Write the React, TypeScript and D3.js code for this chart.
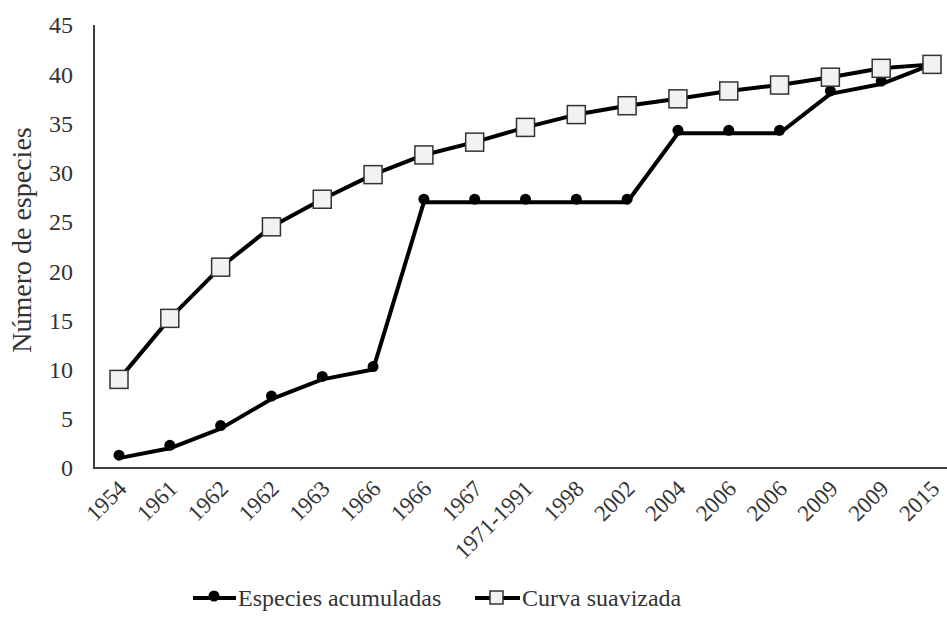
import React, { useRef, useEffect } from "react";
import * as d3 from "d3";

const years = [
  "1954", "1961", "1962", "1962", "1963", "1966", "1966", "1967", "1971-1991",
  "1998", "2002", "2004", "2006", "2006", "2009", "2009", "2015",
];
const acumuladas = [1, 2, 4, 7, 9, 10, 27, 27, 27, 27, 27, 34, 34, 34, 38, 39, 41];
const suavizada = [
  9, 15.2, 20.4, 24.5, 27.3, 29.8, 31.8, 33.1, 34.6, 35.9, 36.8, 37.5, 38.3, 38.9, 39.7, 40.6, 41,
];
const yTicks = [0, 5, 10, 15, 20, 25, 30, 35, 40, 45];

const W = 947;
const H = 624;

const App = () => {
  const ref = useRef<SVGSVGElement>(null);

  useEffect(() => {
    const svg = d3.select(ref.current);
    svg.selectAll("*").remove();

    const idx = years.map((_, i) => i);
    const x = d3.scalePoint<number>().domain(idx).range([119, 932]);
    const y = d3.scaleLinear().domain([0, 45]).range([468, 25]);

    // axes
    svg.append("line")
      .attr("x1", 94).attr("x2", 94).attr("y1", y(45)).attr("y2", y(0))
      .attr("stroke", "#404040").attr("stroke-width", 2);
    svg.append("line")
      .attr("x1", 93).attr("x2", W).attr("y1", y(0)).attr("y2", y(0))
      .attr("stroke", "#404040").attr("stroke-width", 2);

    svg.append("g").selectAll("text").data(yTicks).join("text")
      .attr("x", 73).attr("y", (d) => y(d))
      .attr("dy", "0.35em")
      .attr("text-anchor", "end")
      .attr("font-size", 24).attr("fill", "#333")
      .text((d) => d);

    svg.append("g").selectAll("text").data(idx).join("text")
      .attr("transform", (i) => `translate(${x(i)! + 9},${490}) rotate(-45)`)
      .attr("text-anchor", "end")
      .attr("font-size", 23).attr("fill", "#333")
      .text((i) => years[i]);

    svg.append("text")
      .attr("transform", `translate(31,240) rotate(-90)`)
      .attr("text-anchor", "middle")
      .attr("font-size", 28).attr("fill", "#333")
      .text("Número de especies");

    const line = d3.line<number>().x((_, i) => x(i)!).y((d) => y(d));

    // Especies acumuladas
    svg.append("path").datum(acumuladas)
      .attr("d", line).attr("fill", "none")
      .attr("stroke", "#000").attr("stroke-width", 4).attr("stroke-linejoin", "round");
    svg.append("g").selectAll("circle").data(acumuladas).join("circle")
      .attr("cx", (_, i) => x(i)!).attr("cy", (d) => y(d) - 3)
      .attr("r", 5.5).attr("fill", "#000");

    // Curva suavizada
    svg.append("path").datum(suavizada)
      .attr("d", line).attr("fill", "none")
      .attr("stroke", "#000").attr("stroke-width", 4).attr("stroke-linejoin", "round");
    svg.append("g").selectAll("rect").data(suavizada).join("rect")
      .attr("x", (_, i) => x(i)! - 9).attr("y", (d) => y(d) - 9)
      .attr("width", 18).attr("height", 18)
      .attr("fill", "#f2f2f2").attr("stroke", "#333").attr("stroke-width", 1.5);

    // legend
    const lg = svg.append("g");
    lg.append("line").attr("x1", 193).attr("x2", 236).attr("y1", 598).attr("y2", 598)
      .attr("stroke", "#000").attr("stroke-width", 4);
    lg.append("circle").attr("cx", 214).attr("cy", 596).attr("r", 5.5).attr("fill", "#000");
    lg.append("text").attr("x", 238).attr("y", 598).attr("dy", "0.35em")
      .attr("font-size", 24).attr("fill", "#333")
      .text("Especies acumuladas");
    lg.append("line").attr("x1", 475).attr("x2", 520).attr("y1", 598).attr("y2", 598)
      .attr("stroke", "#000").attr("stroke-width", 4);
    lg.append("rect").attr("x", 490).attr("y", 591).attr("width", 13).attr("height", 13)
      .attr("fill", "#f2f2f2").attr("stroke", "#333").attr("stroke-width", 1.5);
    lg.append("text").attr("x", 522).attr("y", 598).attr("dy", "0.35em")
      .attr("font-size", 24).attr("fill", "#333")
      .text("Curva suavizada");
  }, []);

  return (
    <svg
      ref={ref}
      width={W}
      height={H}
      style={{
        position: "absolute",
        left: 0,
        top: 0,
        background: "#fff",
        fontFamily: "'Liberation Serif', 'Times New Roman', serif",
      }}
    />
  );
};

export default App;
